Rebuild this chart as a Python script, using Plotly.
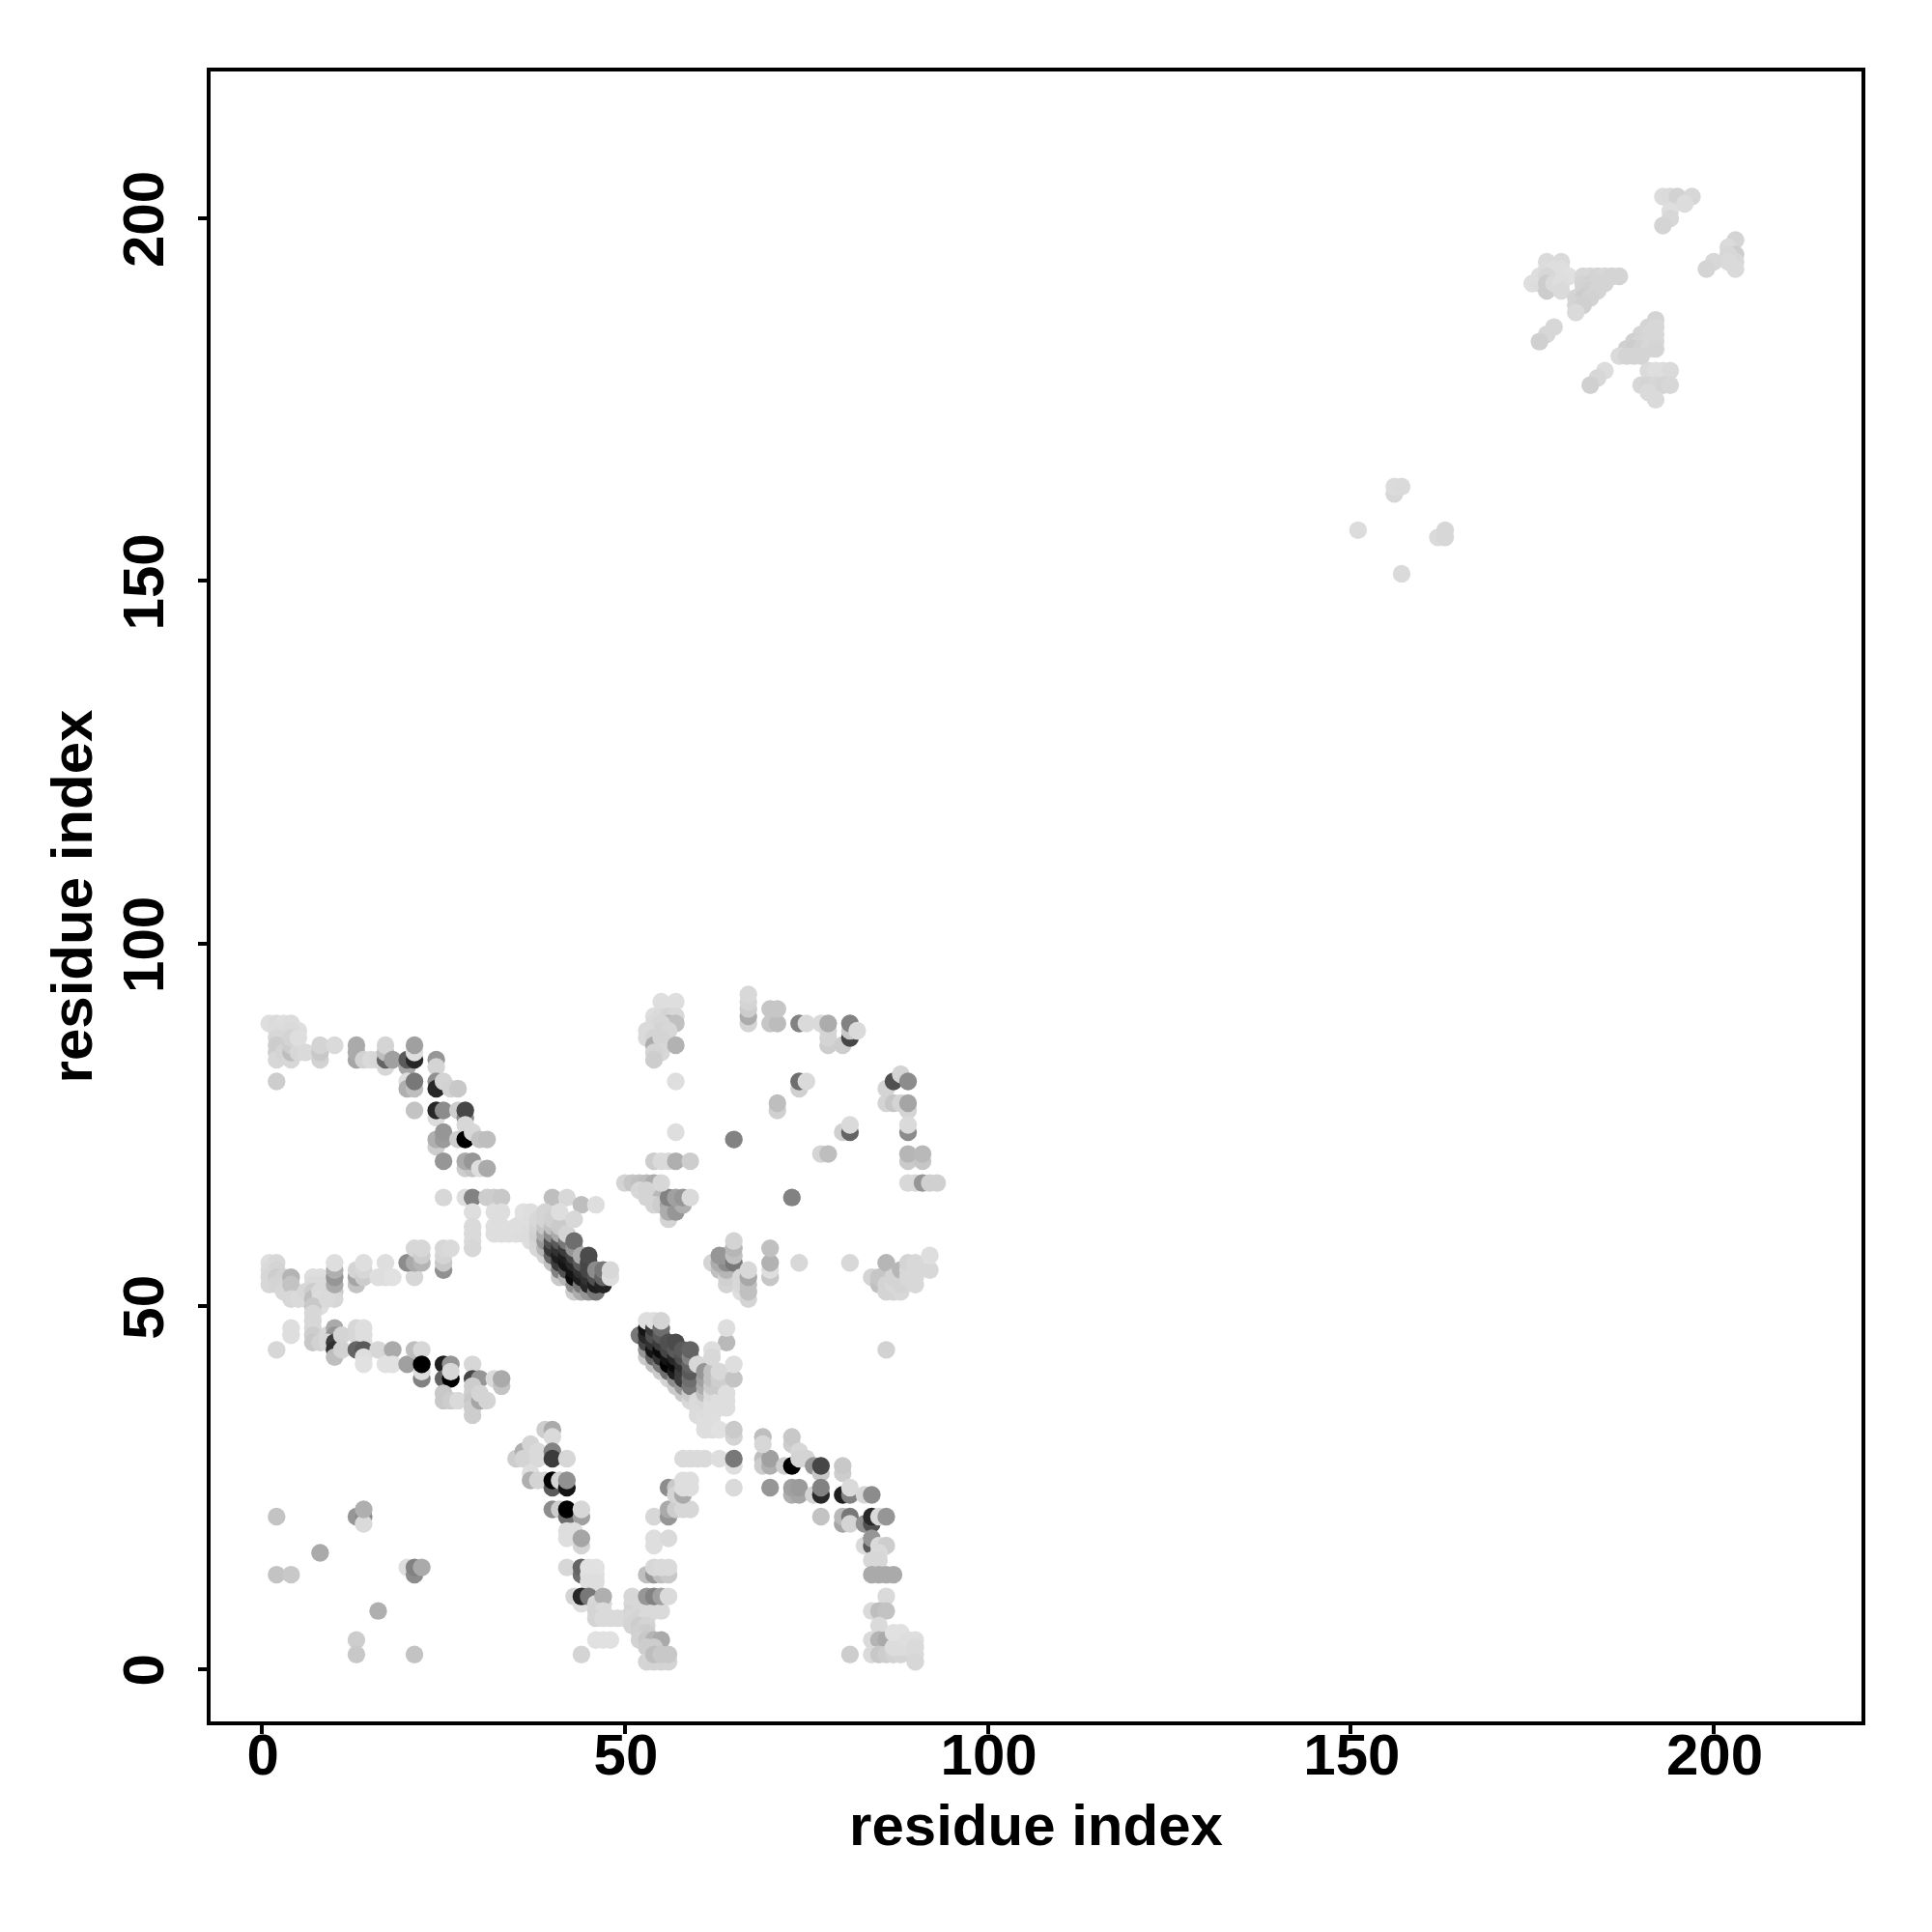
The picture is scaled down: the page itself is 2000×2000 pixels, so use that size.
import plotly.graph_objects as go

# (residue x, residue y, grey level)
upper_left = [
(1,89,222),(2,89,218),(3,89,222),(4,89,220),(5,88,222),(2,88,220),(3,87,220),(4,88,218),(2,87,215),(2,86,205),(2,85,205),(2,84,215),(3,85,212),(4,84,215),(4,85,190),(4,86,205),(4,87,212),(5,85,215),(5,87,222),(6,85,218),(8,84,210),(8,85,200),(8,86,212),(10,86,218),(2,81,205),
(13,84,165),(13,85,170),(13,86,170),(14,84,210),(15,84,218),(16,84,215),(17,83,215),(17,84,100),(17,85,190),(17,86,212),(18,84,160),(20,83,165),(20,84,90),(21,84,40),(21,85,222),(21,86,160),(24,84,150),(24,83,212),
(20,81,222),(20,80,175),(21,80,190),(21,81,120),(24,81,145),(24,80,40),(25,81,212),(26,80,210),(27,80,200),
(21,77,195),(24,76,220),(24,77,40),(25,77,140),(27,77,205),(28,76,140),(28,77,70),(28,75,215),
(24,72,205),(24,73,175),(25,73,155),(25,74,150),(27,73,205),(28,73,0),(29,74,215),(30,73,195),(31,73,190),
(25,70,150),(28,69,205),(29,69,195),(28,70,170),(29,70,150),(30,69,222),(31,69,170),
(25,65,215),(28,65,222),(29,65,130),(31,65,205),(32,65,205),(29,63,222),(32,63,222),(29,61,218),(29,60,218),(29,59,218),(29,58,215),(32,61,222),(32,60,222),(33,65,200),(33,63,222),(33,61,222),(33,60,222),
]
left_mid = [
(1,56,222),(2,56,216),(1,55,218),(2,55,212),(1,54,215),(1,53,215),(2,54,205),(2,53,212),(3,54,210),(3,53,212),(3,52,215),(4,54,180),(4,53,195),(4,51,215),(5,51,218),(6,51,218),(6,52,215),(7,54,222),(8,54,222),(7,53,218),(8,53,218),(7,52,205),(7,51,190),(8,52,218),(8,51,220),(8,50,222),(7,50,200),(7,49,215),(7,48,215),(7,47,215),(7,46,205),(7,45,200),(8,45,210),(9,46,215),(4,47,222),(4,46,222),
(10,52,200),(10,51,215),(9,51,218),(10,53,170),(10,54,150),(10,55,175),(10,56,222),(13,53,195),(13,54,165),(13,55,212),(14,54,205),(14,55,215),(14,56,222),
(17,56,222),(16,54,222),(17,54,222),(18,54,225),(21,54,215),(20,56,140),(21,56,170),(22,56,180),(21,58,215),(22,57,205),(22,58,215),(25,55,145),(25,56,200),(25,57,212),(25,58,215),(26,58,218),
]
left_low = [
(2,44,215),(10,47,170),(10,46,150),(9,45,215),(10,45,60),(10,44,50),(10,43,190),(11,46,212),(11,44,210),(13,46,215),(13,47,215),(14,47,222),(14,46,222),(14,45,222),(13,44,100),(14,44,90),(14,43,222),(14,42,225),(16,44,215),(18,44,170),(17,42,225),(18,42,225),
(20,42,160),(21,44,190),(22,44,215),(22,40,130),(22,41,220),(22,42,0),(25,42,30),(26,42,150),(25,40,100),(26,40,0),(26,41,215),(25,38,200),(25,37,200),(26,37,205),(27,37,218),
(29,42,215),(29,40,70),(30,40,150),(29,39,205),(29,38,205),(29,37,200),(29,36,205),(29,35,205),(30,37,165),(30,38,212),(31,37,212),(32,40,218),(33,39,195),(33,40,170),
(39,33,205),(40,33,170),(40,32,218),(35,29,205),(36,30,175),(36,29,212),(37,31,212),(38,30,218),(38,29,218),(40,30,130),(40,29,60),(42,29,215),
(37,27,222),(37,26,175),(38,26,212),(39,26,212),(40,25,90),(40,26,0),(41,26,212),(42,25,20),(42,26,145),
(40,22,140),(41,22,205),(42,21,110),(42,22,0),(44,21,160),(44,22,215),(42,19,222),(42,18,222),(43,19,222),(44,17,212),(44,18,165),
(42,14,215),(44,13,110),(44,14,100),(45,14,225),(46,14,225),(45,13,225),(46,13,225),(45,12,222),(46,12,222),
(43,10,212),(44,9,222),(44,10,40),(45,10,120),(46,9,215),(47,9,215),(47,10,175),(46,8,212),(47,8,218),(46,7,212),(47,7,218),(48,7,218),(49,7,218),(50,7,218),
(46,4,225),(47,4,225),(48,4,225),(44,2,212),
]
scattered = [
(2,21,195),(13,21,150),(14,21,140),(14,20,218),(14,22,175),(8,16,170),(2,13,195),(4,13,200),(20,14,222),(21,13,140),(21,14,130),(22,14,170),(16,8,175),(13,4,205),(13,2,200),(21,2,195),
(86,44,210),(64,45,185),(64,47,222),(62,44,222),
]
lower_mid = [
(51,9,215),(52,9,218),(51,8,212),(52,8,215),(53,8,218),(54,8,218),(55,8,218),(51,7,215),(52,7,212),(53,7,218),(51,6,212),(52,6,205),(53,6,212),(52,5,208),(53,5,205),(52,4,210),(53,4,200),(54,4,180),(55,4,170),(53,3,205),(54,3,205),(53,1,212),(54,1,212),(55,1,212),(56,1,212),(54,2,190),(55,2,200),(56,2,200),
(51,10,215),(53,10,150),(54,10,130),(55,10,160),(56,10,218),
(53,13,190),(54,13,150),(55,13,190),(56,13,200),(54,14,215),(55,14,218),(56,14,218),(54,18,222),(54,17,222),(56,18,218),
(54,21,215),(56,21,150),(56,22,170),(57,22,205),(58,22,215),(59,22,215),(56,25,140),(57,25,200),(57,24,212),(58,24,170),(58,25,222),(59,25,222),(58,26,222),(59,26,222),
]
lower_right = [
(58,29,218),(59,29,218),(60,29,218),(61,29,218),(63,29,222),(65,28,222),(65,29,120),(65,25,218),
(69,29,190),(69,28,205),(70,28,175),(70,29,160),(70,25,150),(69,32,190),(69,31,215),(73,31,205),(73,32,200),(72,28,205),(74,30,215),(73,28,0),(74,29,212),(75,29,212),(76,28,150),(77,27,200),(77,28,70),(80,27,205),(80,28,200),
(73,24,175),(74,24,165),(73,25,160),(74,25,155),(76,24,212),(77,24,40),(77,25,130),(80,24,30),(81,24,130),(81,25,218),(83,24,215),(84,24,140),
(77,21,195),(80,20,165),(80,21,185),(81,21,120),(81,20,212),(83,20,145),(84,20,80),(84,21,40),(85,21,218),(86,21,150),
(83,17,218),(84,17,90),(84,18,150),(85,17,218),(86,17,205),(85,16,218),(85,15,215),(84,15,215),(84,13,170),(85,13,170),(86,13,170),(87,13,170),
(86,10,218),(84,8,218),(85,8,190),(86,8,195),(85,6,218),(84,4,218),(85,4,180),(86,4,170),(84,2,218),(85,2,200),(86,2,205),(87,2,210),(88,2,212),(81,2,205),(87,3,220),(88,3,220),(89,3,220),(87,5,225),(88,5,225),(89,4,222),(90,4,222),(90,3,218),(90,2,218),(90,1,215),
]
upper_mid = [
(55,92,222),(57,92,222),(54,90,222),(55,90,218),(56,90,212),(57,90,216),(56,89,185),(57,89,192),(54,89,218),(55,89,215),(55,88,212),(56,88,215),(53,88,218),(53,87,218),(54,87,212),(54,86,172),(55,87,212),(55,85,215),(54,85,212),(54,84,205),(57,86,178),(57,81,222),(57,74,222),(65,73,130),
(54,70,205),(55,70,218),(56,70,218),(57,70,175),(59,70,205),
(50,67,212),(51,67,198),(52,67,192),(53,67,188),(54,67,172),(52,66,215),(53,66,212),(53,65,212),(54,65,212),(55,65,185),(54,64,212),(55,64,205),(56,64,165),(57,64,165),(56,62,212),(56,63,172),(57,63,150),(58,64,175),(56,65,130),(57,65,160),(58,65,150),(55,67,215),(59,65,218),
(67,89,212),(67,90,172),(67,91,205),(67,92,212),(67,93,216),(70,89,198),(71,89,188),(70,91,198),(71,91,198),
(74,89,130),(75,89,218),(77,89,218),(78,86,205),(78,87,212),(78,88,212),(78,89,172),(80,86,205),(81,87,70),(81,88,200),(81,89,130),(82,88,218),
(74,80,208),(74,81,110),(75,81,218),(71,77,208),(71,78,190),(80,74,208),(81,74,100),(81,75,218),(77,71,212),(78,71,190),
(86,80,212),(87,81,80),(88,82,212),(89,81,140),(86,78,212),(87,78,198),(88,78,212),(89,77,212),(89,78,165),(89,74,140),(89,75,218),(89,70,202),(91,70,198),(89,71,182),(91,71,185),(89,67,216),(90,67,216),(91,67,150),(92,67,208),(93,67,208),
(73,65,130),
]
right_mid = [
(62,56,212),(63,55,192),(64,53,212),(64,54,208),(64,55,182),(63,56,172),(64,56,140),(64,57,175),(63,57,150),(65,56,120),(65,57,192),(65,58,182),(65,59,212),
(66,52,222),(66,53,216),(66,54,216),(67,51,212),(67,52,192),(67,53,192),(67,54,168),(67,55,216),(70,54,198),(70,55,222),(70,56,178),(70,58,192),(74,56,216),(81,56,216),
(84,54,212),(85,53,192),(85,54,198),(86,52,212),(86,53,212),(86,56,182),(87,52,212),(87,53,216),(87,54,212),(88,52,216),(88,53,212),(88,55,182),(89,54,216),(89,55,216),(89,56,212),(90,53,216),(90,54,216),(90,55,216),(90,56,216),(92,55,216),(92,57,222),
]
band_one = [
(40,65,190),(42,65,216),(44,64,190),(46,64,222),(34,60,222),(35,60,222),(35,61,222),(36,60,220),(36,61,222),(36,62,222),(36,63,225),(37,59,222),(37,60,220),(37,61,220),(37,62,222),(37,63,222),(38,58,215),(38,59,212),(38,60,208),(38,61,212),(38,62,216),
(39,57,212),(39,58,182),(39,59,150),(39,60,172),(39,61,198),(39,62,212),(39,63,212),
(40,56,192),(40,57,100),(40,58,55),(40,59,80),(40,60,140),(40,61,192),(40,62,208),
(41,54,202),(41,55,130),(41,56,60),(41,57,30),(41,58,50),(41,59,90),(41,60,170),(41,61,202),(41,63,222),
(42,54,182),(42,55,80),(42,56,20),(42,57,30),(42,58,60),(42,59,120),(42,60,212),(43,62,216),
(43,52,205),(43,53,140),(43,54,10),(43,55,20),(43,56,40),(43,57,70),(43,58,150),(43,59,110),
(44,52,172),(44,53,120),(44,54,30),(44,55,50),(44,56,90),(44,57,172),
(45,52,150),(45,53,40),(45,54,50),(45,55,70),(45,56,70),(45,57,75),
(46,52,120),(46,53,30),(46,54,80),(46,55,140),(47,53,35),(47,54,100),(47,55,120),(48,54,222),(48,55,216),
]
band_two = [
(52,46,120),(53,43,202),(53,44,150),(53,45,70),(53,46,40),(53,47,20),(53,48,222),
(54,42,192),(54,43,100),(54,44,20),(54,45,50),(54,46,80),(54,47,60),(54,48,222),
(55,41,202),(55,42,120),(55,43,50),(55,44,10),(55,45,60),(55,46,90),(55,47,110),(55,48,212),
(56,40,212),(56,41,110),(56,42,0),(56,43,20),(56,44,70),(56,45,80),
(57,39,202),(57,40,140),(57,41,30),(57,42,10),(57,43,40),(57,44,90),(57,45,75),
(58,38,202),(58,39,150),(58,40,60),(58,41,60),(58,42,50),(58,43,80),(58,44,90),
(59,37,216),(59,38,202),(59,39,120),(59,40,110),(59,41,90),(59,42,100),(59,43,130),(59,44,100),
(60,42,216),(60,35,220),(60,36,220),(60,37,218),
(61,33,222),(61,34,222),(61,35,222),(61,36,220),(61,37,216),(61,38,192),(61,39,172),(61,40,160),(61,41,150),
(62,33,222),(62,34,222),(62,35,222),(62,36,222),(62,37,222),(62,38,218),(62,39,202),(62,40,192),(62,41,192),(62,43,216),
(63,33,225),(63,36,222),(63,37,222),(63,39,202),(63,40,206),(63,41,216),(64,36,222),(64,37,222),(64,38,222),
(65,40,196),(65,42,222),(65,32,212),(65,33,202),
]
c_terminal = [
(151,157,220),(156,162,215),(156,163,220),(157,163,218),(157,151,218),(162,156,218),(163,156,215),(163,157,215),
(193,203,220),(194,203,218),(195,203,210),(197,203,215),(196,202,220),(194,201,222),(194,200,215),(193,199,212),
(203,197,212),(202,196,218),(203,195,205),(203,194,215),(203,193,218),(202,195,215),(202,194,218),(200,194,215),(199,193,212),
(175,191,222),(176,191,220),(176,192,222),(177,194,218),(179,194,218),(177,193,220),(178,193,222),(179,193,222),(180,192,224),(177,192,215),(177,191,205),(177,190,205),(178,191,218),(179,191,222),(179,190,218),
(182,192,215),(183,192,215),(184,192,212),(185,192,215),(186,192,212),(187,192,212),(182,191,212),(183,191,210),(184,191,212),(185,191,212),(182,190,210),(183,190,208),(184,190,212),(181,189,212),(182,189,205),(183,189,210),(181,188,212),(182,188,208),(181,187,218),
(178,185,215),(177,184,215),(176,183,208),
(192,186,212),(191,185,212),(192,185,215),(190,184,212),(191,184,215),(192,184,215),(189,183,208),(190,183,212),(191,183,215),(192,183,215),(188,182,208),(189,182,205),(190,182,210),(191,182,215),(192,182,212),(187,181,218),(188,181,212),(189,181,212),(190,181,212),
(191,179,218),(192,179,222),(193,179,222),(194,179,218),(192,178,222),(190,177,215),(191,177,212),(192,177,215),(193,177,212),(194,177,215),(191,176,218),(192,175,218),
(185,179,220),(184,178,215),(183,177,208),
]
regions = [upper_left, left_mid, left_low, scattered, lower_mid, lower_right, upper_mid, right_mid, band_one, band_two, c_terminal]

tick_values = [0, 50, 100, 150, 200]
axis_label = "residue index"

xs, ys, cols = [], [], []
for region in regions:
    for a, b, g in region:
        xs.append(a); ys.append(b); cols.append(f"rgb({g},{g},{g})")

fig = go.Figure(go.Scatter(x=xs, y=ys, mode="markers",
    marker=dict(size=18.4, color=cols, line=dict(width=0)), hoverinfo="skip"))

font = dict(family="Liberation Sans", size=60, color="black", weight="bold")
axis = dict(tickmode="array", tickvals=tick_values, showgrid=False, zeroline=False,
            showline=True, mirror=True, linecolor="black", linewidth=3.5,
            ticks="outside", ticklen=9, tickwidth=3.5, tickcolor="black", tickfont=font)
fig.update_layout(
    width=2000, height=2000, autosize=False, showlegend=False,
    paper_bgcolor="white", plot_bgcolor="white",
    margin=dict(l=218.4, r=73.4, t=74, b=217.7, pad=0),
    xaxis=dict(axis, range=[-7.09, 220.36], ticklabelstandoff=-30, ticklabelshift=1,
               title=dict(text=axis_label, font=font, standoff=20)),
    yaxis=dict(axis, range=[-7.23, 220.24], tickangle=-90, ticklabelstandoff=12, ticklabelshift=10,
               title=dict(text=axis_label, font=font, standoff=1)),
)
fig.write_html("out.html", config=dict(displayModeBar=False),
               post_script="document.body.style.margin='0';")
